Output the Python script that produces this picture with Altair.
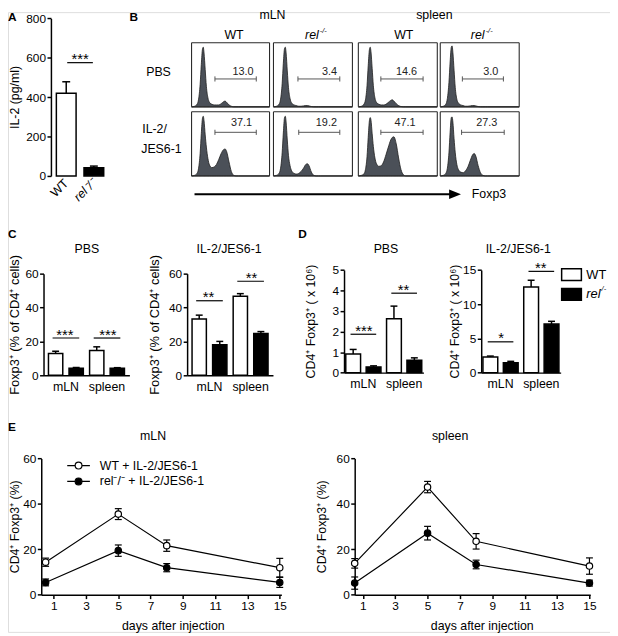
import altair as alt
import pandas as pd

# ---------------- canvas / layout constants ----------------
DX, DY = 8, 7            # reference pixel -> chart pixel shift
W, H = 610, 628
FONT = "Liberation Sans"
FS = 12.5
LFS = 12
INK = "#000000"
HIST_FILL = "#4b5058"


def X(v):
    return v - DX


def Y(v):
    return v - DY


# ---------------- data ----------------
# Panel A : IL-2 production
a_groups = ["WT", "rel⁻/⁻"]
a_mean = [420, 42]
a_err = [58, 8]
a_sig = [575]
a_stars = ["***"]

# Panel B : Foxp3 histograms
b_tissues = ["mLN", "spleen"]
b_pct_pbs = ["13.0", "3.4", "14.6", "3.0"]
b_pct_il2 = ["37.1", "19.2", "47.1", "27.3"]
hist_x = [0, 4, 7, 9, 11, 12.5, 14, 15, 16, 17.5, 19, 21, 23, 26, 29, 32, 35, 38,
          41, 43, 45, 48, 51, 54, 57, 60, 100]
h_pbs_mln_wt = [0, 1, 4, 12, 35, 66, 90, 93, 84, 58, 32, 14, 7, 4, 3, 3, 3, 5, 8, 9, 7, 3, 1, 0, 0, 0, 0]
h_pbs_mln_rel = [0, 1, 4, 12, 36, 68, 91, 93, 84, 56, 30, 13, 6, 3, 2, 1, 1, 1.5, 2, 2, 1.5, 0.5, 0, 0, 0, 0, 0]
h_pbs_spl_wt = [0, 1, 4, 11, 33, 64, 89, 93, 86, 60, 33, 14, 7, 4, 3, 3, 4, 7, 10, 11, 9, 5, 2, 0.5, 0, 0, 0]
h_pbs_spl_rel = [0, 1, 4, 13, 38, 70, 93, 95, 85, 57, 30, 12, 6, 3, 2, 1, 1, 1.5, 2, 2, 1.5, 0.5, 0, 0, 0, 0, 0]
h_il2_mln_wt = [0, 1, 4, 12, 35, 66, 90, 93, 86, 64, 45, 27, 17, 13, 14, 18, 26, 35, 41, 42, 38, 22, 7, 1, 0, 0, 0]
h_il2_mln_rel = [0, 1, 4, 12, 36, 67, 91, 93, 84, 56, 32, 16, 8, 4, 3, 4, 7, 12, 18, 19, 16, 6, 1, 0, 0, 0, 0]
h_il2_spl_wt = [0, 1, 3, 10, 30, 60, 86, 91, 87, 66, 46, 28, 19, 15, 16, 22, 33, 45, 56, 60, 61, 50, 28, 10, 2, 0, 0]
h_il2_spl_rel = [0, 1, 4, 12, 36, 68, 91, 92, 84, 58, 36, 18, 10, 6, 5, 8, 14, 24, 33, 35, 31, 16, 5, 1, 0, 0, 0]
gate_pbs = [[30, 83], [31, 84], [28.5, 82], [28, 80]]
gate_il2 = [[30, 83], [32, 84], [28.5, 82], [27, 81]]

# Panel C : Foxp3+ % of CD4+
c1_wt = [12.8, 14.7]
c1_wt_err = [1.4, 2.1]
c1_rel = [4.2, 4.2]
c1_rel_err = [0.4, 0.3]
c1_sig = [22, 22]
c1_stars = ["***", "***"]
c2_wt = [33.2, 46.6]
c2_wt_err = [2.3, 1.6]
c2_rel = [18.0, 24.7]
c2_rel_err = [2.0, 1.1]
c2_sig = [44, 55.5]
c2_stars = ["**", "**"]

# Panel D : CD4+ Foxp3+ counts (x 10^6)
d1_wt = [0.91, 2.62]
d1_wt_err = [0.22, 0.62]
d1_rel = [0.28, 0.60]
d1_rel_err = [0.05, 0.12]
d1_sig = [1.87, 3.87]
d1_stars = ["***", "**"]
d2_wt = [2.3, 12.5]
d2_wt_err = [0.12, 1.0]
d2_rel = [1.45, 7.1]
d2_rel_err = [0.2, 0.4]
d2_sig = [4.5, 14.8]
d2_stars = ["*", "**"]

# Panel E : time course
e_days = [0.5, 5, 8, 15]
e_labels = ["WT + IL-2/JES6-1", "rel⁻/⁻ + IL-2/JES6-1"]
e1_wt = [14.3, 35.5, 21.6, 11.9]
e1_wt_err = [1.8, 2.4, 2.5, 4.1]
e1_rel = [5.4, 19.4, 11.9, 5.4]
e1_rel_err = [1.5, 2.5, 1.8, 2.2]
e2_wt = [13.8, 47.4, 23.5, 12.6]
e2_wt_err = [2.1, 2.5, 3.4, 3.6]
e2_rel = [5.1, 27.1, 13.3, 5.1]
e2_rel_err = [2.7, 3.0, 1.9, 1.3]

CATS = ["mLN|WT", "mLN|rel", "spleen|WT", "spleen|rel"]
RECT_SYM = "M-1,-0.6H1V0.6H-1Z"
E_SYM = "M-2,0H-0.6M0.6,0H2M0.6,0A0.6,0.6,0,1,1,-0.6,0A0.6,0.6,0,1,1,0.6,0Z"
ARROW_SYM = "M-1,-0.8L1,0L-1,0.8Z"


# ---------------- helpers ----------------
def yaxis(ax_x, values, title, tcx, tcy, tfs=FS):
    return alt.Axis(
        orient="left", offset=-X(ax_x), values=values, grid=False,
        domain=True, domainColor=INK, domainWidth=1.5,
        ticks=True, tickColor=INK, tickWidth=1.5, tickSize=4,
        labelFont=FONT, labelFontSize=LFS, labelColor=INK, labelPadding=1.5,
        labelFlush=False,
        title=title, titleFont=FONT, titleFontSize=tfs, titleFontWeight="normal",
        titleColor=INK, titleAngle=270, titleAlign="center", titleBaseline="middle",
        titleX=tcx - ax_x, titleY=Y(tcy))


def xaxis_cat(ax_y):
    return alt.Axis(
        orient="bottom", offset=Y(ax_y) - H, grid=False,
        domain=True, domainColor=INK, domainWidth=1.5,
        ticks=False, tickSize=0, labelAngle=0,
        labelFont=FONT, labelFontSize=FS, labelColor=INK, labelPadding=5,
        title=None)


def xaxis_days(ax_y, tcx, tcy):
    return alt.Axis(
        orient="bottom", offset=Y(ax_y) - H, values=[1, 3, 5, 7, 9, 11, 13, 15],
        grid=False, domain=True, domainColor=INK, domainWidth=1.5,
        ticks=True, tickColor=INK, tickWidth=1.5, tickSize=4,
        labelFont=FONT, labelFontSize=LFS, labelColor=INK, labelPadding=2,
        labelFlush=False, labelAngle=0,
        title="days after injection", titleFont=FONT, titleFontSize=FS,
        titleFontWeight="normal", titleColor=INK, titleAngle=0,
        titleAlign="center", titleBaseline="middle",
        titleX=X(tcx), titleY=tcy - ax_y)


def text_layer(rows, size=FS, align="center", baseline="middle", style="normal",
               weight="normal", clamp=False):
    df = pd.DataFrame(rows, columns=["t", "x", "y"])
    df["x"] = [max(0, X(v)) if clamp else X(v) for v in df["x"]]
    df["y"] = [max(0, Y(v)) if clamp else Y(v) for v in df["y"]]
    return alt.Chart(df).mark_text(
        font=FONT, fontSize=size, align=align, baseline=baseline,
        fontStyle=style, fontWeight=weight, color=INK
    ).encode(x=alt.X("x:Q", scale=None, axis=None),
             y=alt.Y("y:Q", scale=None, axis=None),
             text="t:N")


layers = []

# ---------------- Panel A ----------------
a_xs = alt.Scale(domain=a_groups, range=[X(53), X(109)], paddingInner=2 / 7, paddingOuter=1 / 7)
a_ys = alt.Scale(domain=[0, 800], range=[Y(173), Y(13.3)], nice=False, zero=True)
a_df = pd.DataFrame({"g": a_groups, "v": a_mean,
                     "top": [m + e for m, e in zip(a_mean, a_err)]})
a_xaxis = alt.Axis(
    orient="bottom", offset=Y(173) - H, domain=False, ticks=False, tickSize=0,
    labelAngle=-45, labelAlign="right", labelBaseline="middle", labelPadding=5,
    labelFont=FONT, labelFontSize=FS, labelColor=INK,
    labelFontStyle={"condition": {"test": "datum.value == 'WT'", "value": "normal"},
                    "value": "italic"},
    title=None, grid=False)
layers.append(alt.Chart(a_df).mark_bar(stroke=INK, strokeWidth=1.5).encode(
    x=alt.X("g:N", scale=a_xs, axis=a_xaxis),
    y=alt.Y("v:Q", scale=a_ys, axis=yaxis(51.5, [0, 200, 400, 600, 800], "IL-2 (pg/ml)", 14.5, 93)),
    fill=alt.Fill("g:N", scale=alt.Scale(domain=a_groups, range=["white", "black"]), legend=None)))
layers.append(alt.Chart(a_df).mark_rule(color=INK, strokeWidth=1.5).encode(
    x=alt.X("g:N", scale=a_xs, axis=None),
    y=alt.Y("v:Q", scale=a_ys, axis=None), y2="top:Q"))
layers.append(alt.Chart(a_df).mark_tick(orient="horizontal", size=8, thickness=1.5,
                                         color=INK, opacity=1).encode(
    x=alt.X("g:N", scale=a_xs, axis=None),
    y=alt.Y("top:Q", scale=a_ys, axis=None)))
a_sig_df = pd.DataFrame({"s": ["pair"], "y": a_sig, "t": a_stars})
a_ss = alt.Scale(domain=["pair"], range=[X(53), X(109)])
layers.append(alt.Chart(a_sig_df).mark_tick(orient="horizontal", size=26, thickness=1.2,
                                             color=INK, opacity=1).encode(
    x=alt.X("s:N", scale=a_ss, axis=None), y=alt.Y("y:Q", scale=a_ys, axis=None)))
layers.append(alt.Chart(a_sig_df).mark_text(font=FONT, fontSize=15, baseline="alphabetic",
                                             dy=1.5, color=INK).encode(
    x=alt.X("s:N", scale=a_ss, axis=None), y=alt.Y("y:Q", scale=a_ys, axis=None), text="t:N"))

# ---------------- Panel B ----------------
b_colx = [(194, 273), (277, 357), (363, 443), (446, 526)]
b_rowy = [(38, 103), (108, 173)]
b_curves = [[h_pbs_mln_wt, h_pbs_mln_rel, h_pbs_spl_wt, h_pbs_spl_rel],
            [h_il2_mln_wt, h_il2_mln_rel, h_il2_spl_wt, h_il2_spl_rel]]
b_gates = [gate_pbs, gate_il2]
b_pcts = [b_pct_pbs, b_pct_il2]
b_gate_h = [43.5, 68]
b_lab_y = [54, 82]
b_lab_x = [[66, 71, 61, 64], [64, 67, 59, 59]]
for r in range(2):
    for c in range(4):
        xs = alt.Scale(domain=[0, 100], range=[X(b_colx[c][0]), X(b_colx[c][1])], nice=False, zero=False)
        ys = alt.Scale(domain=[0, 100], range=[Y(b_rowy[r][1]), Y(b_rowy[r][0])], nice=False, zero=False)
        hdf = pd.DataFrame({"x": hist_x, "y": b_curves[r][c]})
        layers.append(alt.Chart(hdf).mark_area(
            interpolate="monotone", fill=HIST_FILL, stroke="#1e1e1e", strokeWidth=0.8).encode(
            x=alt.X("x:Q", scale=xs, axis=None), y=alt.Y("y:Q", scale=ys, axis=None)))
        g0, g1 = b_gates[r][c]
        gh = b_gate_h[r]
        rules = pd.DataFrame([
            {"x": 0, "x2": 100, "y": 0, "y2": 0, "col": "#2a2a2a", "w": 1.1},
            {"x": 0, "x2": 100, "y": 100, "y2": 100, "col": "#2a2a2a", "w": 1.1},
            {"x": 0, "x2": 0, "y": 0, "y2": 100, "col": "#2a2a2a", "w": 1.1},
            {"x": 100, "x2": 100, "y": 0, "y2": 100, "col": "#2a2a2a", "w": 1.1},
            {"x": g0, "x2": g1, "y": gh, "y2": gh, "col": "#555555", "w": 1},
            {"x": g0, "x2": g0, "y": gh - 4, "y2": gh + 4, "col": "#555555", "w": 1},
            {"x": g1, "x2": g1, "y": gh - 4, "y2": gh + 4, "col": "#555555", "w": 1},
        ])
        layers.append(alt.Chart(rules).mark_rule().encode(
            x=alt.X("x:Q", scale=xs, axis=None), x2="x2:Q",
            y=alt.Y("y:Q", scale=ys, axis=None), y2="y2:Q",
            color=alt.Color("col:N", scale=None),
            strokeWidth=alt.StrokeWidth("w:Q", scale=None)))
        tdf = pd.DataFrame({"x": [b_lab_x[r][c]], "y": [b_lab_y[r]], "t": [b_pcts[r][c]]})
        layers.append(alt.Chart(tdf).mark_text(font=FONT, fontSize=11, color="#222222").encode(
            x=alt.X("x:Q", scale=xs, axis=None), y=alt.Y("y:Q", scale=ys, axis=None), text="t:N"))

arrow_df = pd.DataFrame({"x": [X(197)], "x2": [X(459)], "y": [Y(191.5)]})
layers.append(alt.Chart(arrow_df).mark_rule(color=INK, strokeWidth=2).encode(
    x=alt.X("x:Q", scale=None, axis=None), x2="x2:Q", y=alt.Y("y:Q", scale=None, axis=None)))
head_df = pd.DataFrame({"x": [X(461)], "y": [Y(191.5)]})
layers.append(alt.Chart(head_df).mark_point(shape=ARROW_SYM, size=144, filled=True,
                                             color=INK, opacity=1).encode(
    x=alt.X("x:Q", scale=None, axis=None), y=alt.Y("y:Q", scale=None, axis=None)))


# ---------------- Panels C & D (grouped bars) ----------------
def grouped_panel(geo, wt, wt_err, rel, rel_err, sig, stars, legend=False):
    cs = alt.Scale(domain=CATS, range=[X(geo["x0"]), X(geo["x1"])],
                   paddingInner=geo["pi"], paddingOuter=geo["po"])
    ts = alt.Scale(domain=b_tissues, range=[X(geo["x0"]), X(geo["x1"])],
                   paddingInner=0.3, paddingOuter=(geo["po"] - geo["pi"] / 2 + 0.3) / 2)
    ys = alt.Scale(domain=[0, geo["ymax"]], range=[Y(geo["yb"]), Y(geo["yt"])], nice=False, zero=True)
    df = pd.DataFrame({
        "c": CATS,
        "g": ["WT", "rel", "WT", "rel"],
        "v": [wt[0], rel[0], wt[1], rel[1]],
        "e": [wt_err[0], rel_err[0], wt_err[1], rel_err[1]],
    })
    df["top"] = df["v"] + df["e"]
    out = []
    yax = yaxis(geo["x0"], geo["ticks"], geo["ytitle"], geo["tcx"], geo["tcy"], geo["tfs"])
    if not legend:
        out.append(alt.Chart(df).mark_bar(stroke=INK, strokeWidth=1.5).encode(
            x=alt.X("c:N", scale=cs, axis=None),
            y=alt.Y("v:Q", scale=ys, axis=yax),
            fill=alt.Fill("g:N", scale=alt.Scale(domain=["WT", "rel"], range=["white", "black"]),
                          legend=None)))
    else:
        for i, (gname, colr, style) in enumerate([("WT", "white", "normal"),
                                                  ("rel", "black", "italic")]):
            leg = alt.Legend(orient="none", legendX=X(geo["legx"]), legendY=Y(geo["legy"][i]),
                             title=None, symbolType=RECT_SYM, symbolSize=400,
                             symbolStrokeColor=INK, symbolStrokeWidth=1.5,
                             labelFont=FONT, labelFontSize=13, labelColor=INK,
                             labelFontStyle=style, labelOffset=4, padding=0)
            out.append(alt.Chart(df[df["g"] == gname]).mark_bar(stroke=INK, strokeWidth=1.5).encode(
                x=alt.X("c:N", scale=cs, axis=None),
                y=alt.Y("v:Q", scale=ys, axis=yax if i == 0 else None),
                fill=alt.Fill("g:N", scale=alt.Scale(domain=[gname], range=[colr]), legend=leg)))
    out.append(alt.Chart(df).mark_rule(color=INK, strokeWidth=1.5).encode(
        x=alt.X("c:N", scale=cs, axis=None),
        y=alt.Y("v:Q", scale=ys, axis=None), y2="top:Q"))
    out.append(alt.Chart(df).mark_tick(orient="horizontal", size=7, thickness=1.5,
                                       color=INK, opacity=1).encode(
        x=alt.X("c:N", scale=cs, axis=None),
        y=alt.Y("top:Q", scale=ys, axis=None)))
    sdf = pd.DataFrame({"t": b_tissues, "y": sig, "s": stars})
    out.append(alt.Chart(sdf).mark_tick(orient="horizontal", size=geo["sigw"], thickness=1.2,
                                        color=INK, opacity=1).encode(
        x=alt.X("t:N", scale=ts, axis=xaxis_cat(geo["yb"])),
        y=alt.Y("y:Q", scale=ys, axis=None)))
    out.append(alt.Chart(sdf).mark_text(font=FONT, fontSize=15, baseline="alphabetic",
                                        dy=1.5, color=INK).encode(
        x=alt.X("t:N", scale=ts, axis=None),
        y=alt.Y("y:Q", scale=ys, axis=None), text="s:N"))
    return out


C_Y = dict(yb=375, yt=272, ymax=60, ticks=[0, 20, 40, 60], sigw=27, pi=0.304, po=0.24,
           ytitle="Foxp3⁺ (% of CD4⁺ cells)", tcy=323.5, tfs=13)
D_Y = dict(yb=372.3, yt=268.3, sigw=26, pi=0.274, po=0.085,
           ytitle="CD4⁺ Foxp3⁺ ( x 10⁶)", tcy=320, tfs=12.5)
GEO_C1 = dict(C_Y, x0=44, x1=131, tcx=15)
GEO_C2 = dict(C_Y, x0=189.5, x1=276.5, tcx=157)
GEO_D1 = dict(D_Y, x0=348.5, x1=429, ymax=5, ticks=[0, 1, 2, 3, 4, 5], tcx=315)
GEO_D2 = dict(D_Y, x0=487.5, x1=568, ymax=15, ticks=[0, 5, 10, 15], tcx=460,
              legx=568, legy=[262, 282])

layers += grouped_panel(GEO_C1, c1_wt, c1_wt_err, c1_rel, c1_rel_err, c1_sig, c1_stars)
layers += grouped_panel(GEO_C2, c2_wt, c2_wt_err, c2_rel, c2_rel_err, c2_sig, c2_stars)
layers += grouped_panel(GEO_D1, d1_wt, d1_wt_err, d1_rel, d1_rel_err, d1_sig, d1_stars)
layers += grouped_panel(GEO_D2, d2_wt, d2_wt_err, d2_rel, d2_rel_err, d2_sig, d2_stars, legend=True)


# ---------------- Panel E (time course) ----------------
def e_panel(geo, wt, wt_err, rel, rel_err, legend=False):
    xs = alt.Scale(domain=geo["dom"], range=[X(geo["x0"]), X(geo["x1"])], nice=False, zero=False)
    ys = alt.Scale(domain=[0, 60], range=[Y(597.3), Y(459.3)], nice=False, zero=False)
    df = pd.DataFrame({"d": e_days + e_days, "v": wt + rel, "e": wt_err + rel_err,
                       "g": [e_labels[0]] * 4 + [e_labels[1]] * 4})
    df["lo"] = df["v"] - df["e"]
    df["hi"] = df["v"] + df["e"]
    xn = alt.X("d:Q", scale=xs, axis=None)
    out = [
        alt.Chart(df).mark_line(color=INK, strokeWidth=1.2).encode(
            x=xn, y=alt.Y("v:Q", scale=ys, axis=None), detail="g:N"),
        alt.Chart(df).mark_rule(color=INK, strokeWidth=1.2).encode(
            x=xn, y=alt.Y("lo:Q", scale=ys, axis=None), y2="hi:Q"),
        alt.Chart(df).transform_fold(["lo", "hi"], as_=["k", "cv"]).mark_tick(
            orient="horizontal", size=7, thickness=1.2, color=INK, opacity=1).encode(
            x=xn, y=alt.Y("cv:Q", scale=ys, axis=None)),
    ]
    leg = None
    if legend:
        leg = alt.Legend(orient="none", legendX=X(73), legendY=Y(460), title=None,
                         symbolType=E_SYM, symbolSize=132, symbolStrokeColor=INK,
                         symbolStrokeWidth=1.2, symbolOpacity=1,
                         labelFont=FONT, labelFontSize=FS, labelColor=INK,
                         labelOffset=15, rowPadding=3, padding=0)
    out.append(alt.Chart(df).mark_point(shape="circle", filled=True, size=42, stroke=INK,
                                        strokeWidth=1.2, opacity=1).encode(
        x=alt.X("d:Q", scale=xs, axis=xaxis_days(597.3, geo["xtc"], 629)),
        y=alt.Y("v:Q", scale=ys, axis=yaxis(geo["x0"], [0, 20, 40, 60], "CD4⁺ Foxp3⁺ (%)",
                                            geo["ytc"], 528)),
        fill=alt.Fill("g:N", scale=alt.Scale(domain=e_labels, range=["white", "black"]),
                      legend=leg)))
    return out


GEO_E1 = dict(x0=41.7, x1=285, dom=[0.23, 15.1], xtc=175, ytc=15)
GEO_E2 = dict(x0=359.3, x1=598, dom=[0.5, 15.05], xtc=488, ytc=326)
layers += e_panel(GEO_E1, e1_wt, e1_wt_err, e1_rel, e1_rel_err, legend=True)
layers += e_panel(GEO_E2, e2_wt, e2_wt_err, e2_rel, e2_rel_err)

# ---------------- free text ----------------
layers.append(text_layer([
    ("mLN", 276, 10), ("spleen", 440, 10), ("WT", 237, 30), ("WT", 409, 30),
    ("PBS", 88, 247), ("IL-2/JES6-1", 232, 247), ("PBS", 391, 247), ("IL-2/JES6-1", 525, 247),
    ("mLN", 155, 437), ("spleen", 456, 437)]))
layers.append(text_layer([("rel", 309, 30), ("rel", 477, 30)], align="left", style="italic"))
layers.append(text_layer([("-/-", 324, 26), ("-/-", 492, 26), ("-/-", 607, 288)],
                         size=7.5, align="left", style="italic"))
layers.append(text_layer([("PBS", 148, 68), ("IL-2/", 144, 125), ("JES6-1", 143, 146),
                          ("Foxp3", 478, 191)], align="left"))
layers.append(text_layer([("A", 2, 3), ("B", 131, 3), ("C", 3, 227), ("D", 302, 227),
                          ("E", 0, 422)], size=12, align="left", baseline="top",
                         weight="bold", clamp=True))

chart = alt.layer(*layers).resolve_scale(
    x="independent", y="independent", fill="independent"
).resolve_axis(
    x="independent", y="independent"
).resolve_legend(
    fill="independent"
).properties(
    width=W, height=H, autosize=alt.AutoSizeParams(type="none"), padding=0
).configure_view(stroke=None).configure(background="white")

chart.save("out.html", embed_options={"renderer": "svg", "actions": False})
